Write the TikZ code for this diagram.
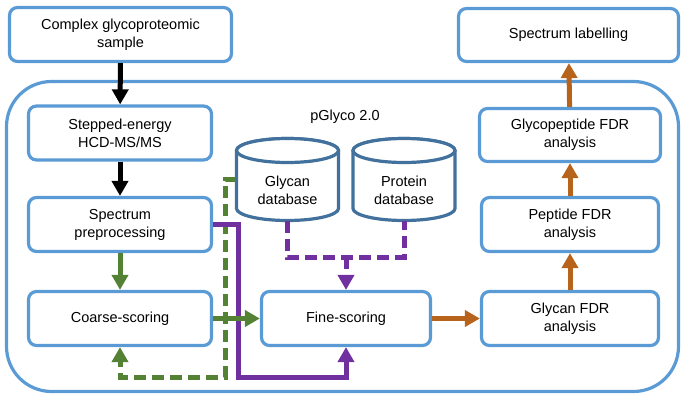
\documentclass[tikz,border=0pt]{standalone}
\usepackage{fontspec}
\setmainfont{Liberation Sans}
\usetikzlibrary{arrows.meta}
\definecolor{boxblue}{HTML}{5B9BD5}
\definecolor{dbblue}{HTML}{41719C}
\definecolor{flowgreen}{HTML}{548235}
\definecolor{flowpurple}{HTML}{7030A0}
\definecolor{flowbrown}{HTML}{B8631C}

\begin{document}
\begin{tikzpicture}[x=1pt,y=-1pt,>=Triangle,
    font=\fontsize{14.5}{18}\selectfont,
    stage/.style={draw=boxblue, line width=3.2pt, rounded corners=8pt, fill=white,
        align=center, inner sep=0pt, minimum width=183pt, minimum height=54pt},
    dbline/.style={draw=dbblue, line width=3.2pt, fill=white},
    flow/.style={line width=5pt, -{Triangle[length=15pt,width=16pt]}},
    dashflow/.style={flow, dash pattern=on 12pt off 6pt}]
    \useasboundingbox (0,0) rectangle (689,404);

    \draw[boxblue, line width=3.2pt, rounded corners=45pt] (6.5,81.5) rectangle (678.5,391.5);
    \node (tool) at (345,117) {pGlyco 2.0};

    \node[stage, minimum width=222pt] (sample) at (120.5,34.5) {Complex glycoproteomic\\sample};
    \node[stage] (stepped) at (120,133) {Stepped-energy\\HCD-MS/MS};
    \node[stage] (prep) at (120,224.5) {Spectrum\\preprocessing};
    \node[stage] (coarse) at (120,318.5) {Coarse-scoring};
    \node[stage, minimum width=169pt] (fine) at (346,318.5) {Fine-scoring};
    \node[stage, minimum width=177pt] (glycanfdr) at (570,318.5) {Glycan FDR\\analysis};
    \node[stage, minimum width=177pt] (peptidefdr) at (570,224.5) {Peptide FDR\\analysis};
    \node[stage, minimum width=181pt, minimum height=53pt] (gpfdr) at (570,135) {Glycopeptide FDR\\analysis};
    \node[stage, minimum width=220pt, minimum height=53pt] (labelling) at (568.5,35) {Spectrum labelling};

    % databases
    \foreach \cx/\name/\txt in {287.5/glycandb/Glycan, 404/proteindb/Protein} {
        \draw[dbline] (\cx-51,150.5) -- (\cx-51,208.5) arc (180:0:51 and 12)
            -- (\cx+51,150.5) arc (0:-180:51 and 12) -- cycle;
        \draw[dbline] (\cx,150.5) ellipse (51 and 12);
        \node[inner sep=0pt, minimum width=102pt, minimum height=82pt] (\name) at (\cx,179.5) {};
        \node[align=center] (\name text) at (\cx,190) {\txt\\database};
    }

    \coordinate (greenbend) at (225,377);
    \coordinate (purplebend) at (238,377);
    \coordinate (dbjoin) at (346,257);

    % black input arrows
    \draw[flow] (sample) -- (stepped);
    \draw[flow] (stepped) -- (prep);

    % green scoring paths
    \draw[dashflow, flowgreen] (glycandb.west) -| (greenbend) -| (coarse.south);
    \draw[flow, flowgreen] (prep) -- (coarse);

    % purple paths into fine-scoring
    \draw[line width=5pt, flowpurple, dash pattern=on 12pt off 6pt] (glycandb.south) |- (dbjoin) -| (proteindb.south);
    \draw[dashflow, flowpurple] (dbjoin) -- (fine.north);
    \draw[flow, flowpurple] (prep.east) -| (purplebend) -| (fine.south);

    \draw[flow, flowgreen] (coarse) -- (fine);

    % brown FDR chain
    \draw[flow, flowbrown] (fine) -- (glycanfdr);
    \draw[flow, flowbrown] (glycanfdr) -- (peptidefdr);
    \draw[flow, flowbrown] (peptidefdr) -- (gpfdr);
    \draw[flow, flowbrown] (gpfdr) -- (labelling);
\end{tikzpicture}
\end{document}
